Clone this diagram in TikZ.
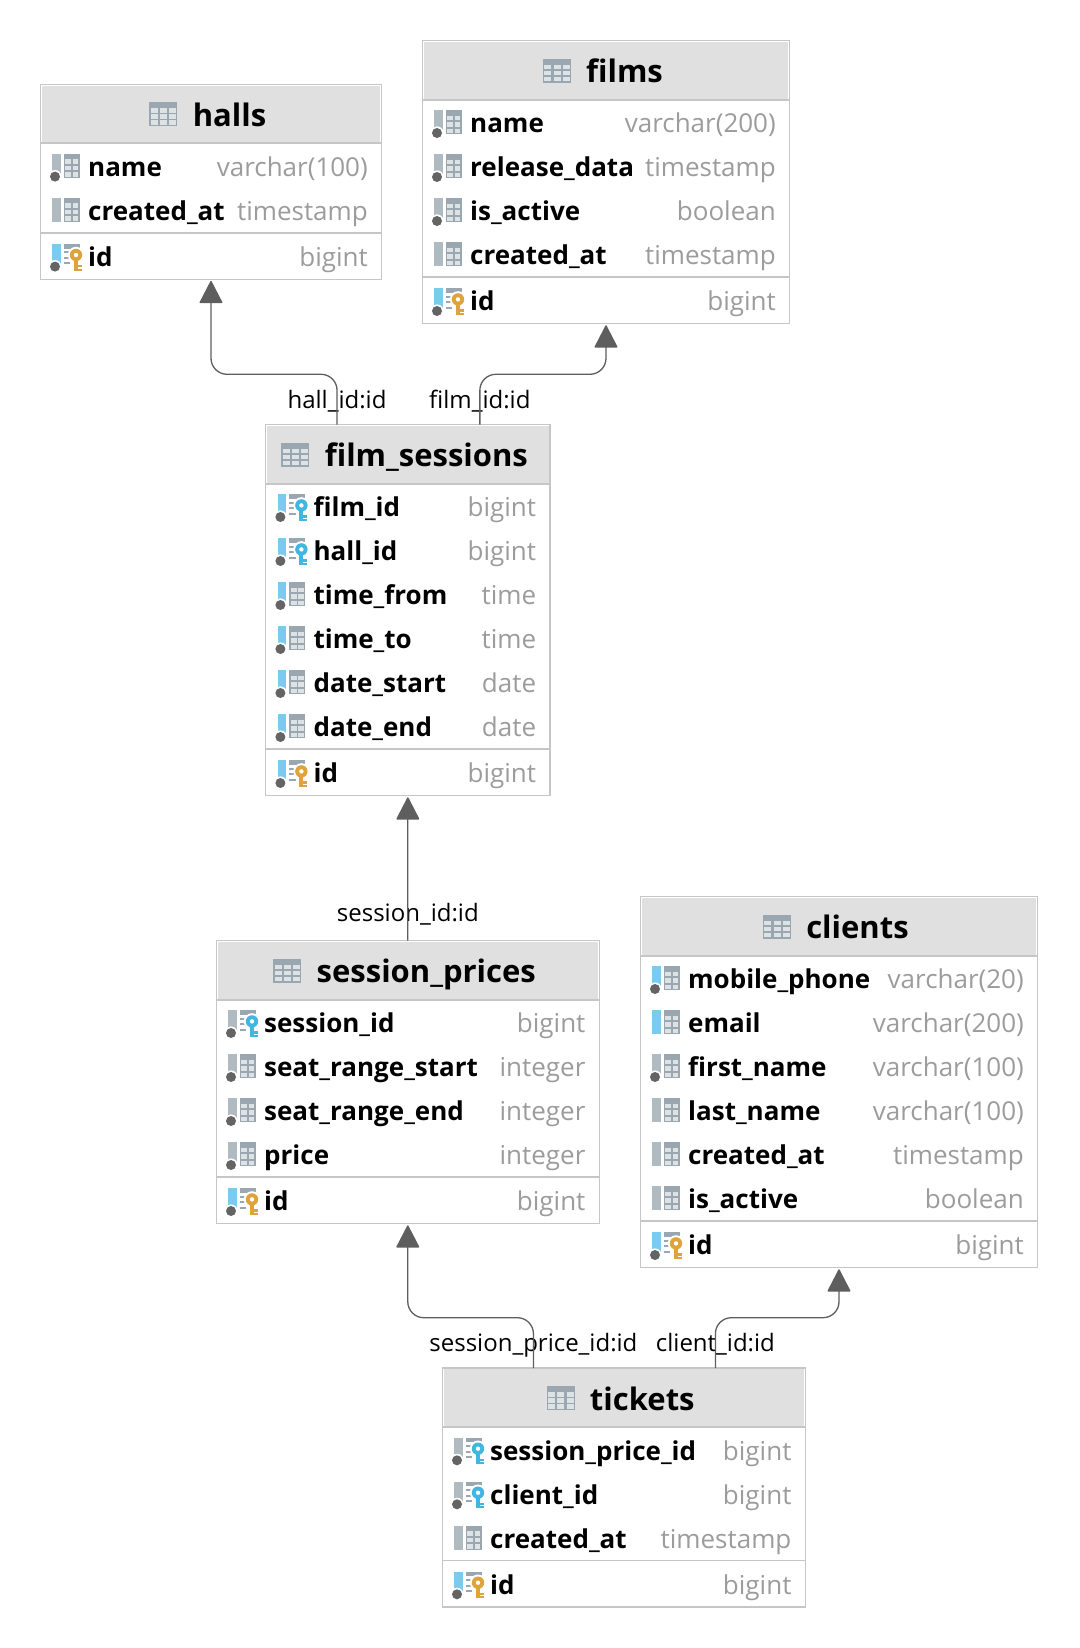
\documentclass[tikz,border=0pt]{standalone}
\usepackage{fontspec}
\setmainfont{Open Sans}
\usetikzlibrary{arrows.meta, positioning}

\definecolor{linegray}{HTML}{5E5E5E}
\definecolor{edgegray}{HTML}{C6C6C6}
\definecolor{headgray}{HTML}{E0E0E0}
\definecolor{typegray}{HTML}{9C9C9C}
\definecolor{icongray}{HTML}{9AA7B0}
\definecolor{cellgray}{HTML}{DDE2E5}
\definecolor{barg}{HTML}{AFBAC1}
\definecolor{barb}{HTML}{7ACBEC}
\definecolor{dotgray}{HTML}{646464}
\definecolor{keygold}{HTML}{DFA33A}
\definecolor{keyblue}{HTML}{40B6E0}

\tikzset{
    tablebox/.style = {draw=edgegray, line width=0.7pt, rectangle, fill=white, anchor=north west, inner sep=0pt, outer sep=0pt},
    headbox/.style = {fill=headgray, rectangle, anchor=north west, inner sep=0pt, outer sep=0pt},
    sepline/.style = {draw=edgegray, line width=0.9pt},
    title/.style = {anchor=base, inner sep=0pt, font=\bfseries\fontsize{15.5}{18}\selectfont},
    field/.style = {anchor=base west, inner sep=0pt, font=\bfseries\fontsize{13}{16}\selectfont},
    ftype/.style = {anchor=base east, inner sep=0pt, text=typegray, font=\fontsize{13}{16}\selectfont},
    fklabel/.style = {anchor=base, inner sep=0pt, font=\fontsize{12}{14}\selectfont},
    fklink/.style = {draw=linegray, line width=0.65pt, rounded corners=8pt, shorten >=0.8pt, -{Triangle[length=11.5pt, width=11.7pt, round=false]}},
}

% small icon of a table, left of the title
\newcommand{\tableicon}[1]{%
    \begin{scope}[shift={#1}]
        \fill[icongray] (-43,-24) rectangle (-15,0);
        \foreach \cx in {-41.5,-32.2,-23} \foreach \cy in {-18,-12,-6}
            \fill[cellgray] (\cx,\cy) rectangle ++(7,4.6);
    \end{scope}%
}

% icon of a column: position, bar colour, dot, key (0 none, 1 gold, 2 blue)
\newcommand{\colicon}[4]{%
    \begin{scope}[shift={#1}]
        \fill[#2] (0,-13.3) rectangle (8.7,10.7);
        \ifnum#4=0
            \fill[icongray] (11.4,-13.3) rectangle (27.4,10.7);
            \foreach \cy in {-8,-1.4,5} {
                \fill[cellgray] (13.0,\cy) rectangle ++(5.8,4.6);
                \fill[cellgray] (20.2,\cy) rectangle ++(5.8,4.6);
            }
        \else
            \fill[icongray] (11.4,-13.3) rectangle (27.4,-8.6);
            \fill[icongray] (11.4,-6) rectangle (18,-4);
            \fill[icongray] (11.4,-0.5) rectangle (18,1.5);
            \fill[icongray] (11.4,5) rectangle (18,7);
            \ifcase#4\or\def\keycol{keygold}\or\def\keycol{keyblue}\fi
            \fill[white] (23.7,-2.3) circle (4.1pt);
            \fill[white] (19.7,3) rectangle (31,15);
            \fill[\keycol] (23.7,-2.3) circle (3.1pt);
            \fill[white] (23.7,-2.3) circle (1.1pt);
            \fill[\keycol] (21.7,2) rectangle (25.7,13.4);
            \fill[\keycol] (25.7,7.5) rectangle (29.5,10);
            \fill[\keycol] (25.7,11.4) rectangle (29.5,13.4);
        \fi
        \ifnum#3=1
            \fill[white] (2.7,9.3) circle (3.3pt);
            \fill[dotgray] (2.7,9.3) circle (2.5pt);
        \fi
    \end{scope}%
}

% one table: name, left, top, width, number of rows, title, rows
\newcommand{\dbtable}[7]{%
    \pgfmathsetmacro{\tabh}{107+44*#5}
    \node [tablebox, minimum width=#4*0.5pt, minimum height=\tabh*0.5pt] (#1) at (#2,#3) {};
    \node [headbox, minimum width=#4*0.5pt-1.4pt, minimum height=28.6pt] (#1-head) at (#2+1.4,#3+1.4) {};
    \draw [sepline] (#2,#3+59) -- ++(#4,0);
    \pgfmathsetmacro{\septop}{#3+60.4+44*#5}
    \draw [sepline] (#2,\septop) -- ++(#4,0);
    \node [title] (#1-title) at (#2+#4/2+18.5,#3+42) {#6};
    \tableicon{(#1-title.base west)}
    \foreach \fname/\ftype/\fbar/\fdot/\fkey [count=\i] in {#7} {
        \pgfmathsetmacro{\rowy}{#3+39+44*\i}
        \colicon{(#2+12,\rowy)}{\fbar}{\fdot}{\fkey}
        \node [field] (#1-\i) at (#2+47.5,\rowy+9) {\fname};
        \node [ftype] (#1-\i-type) at (#2+#4-13.5,\rowy+9) {\ftype};
    }
    \pgfmathsetmacro{\idy}{#3+85+44*#5}
    \colicon{(#2+12,\idy)}{barb}{1}{1}
    \node [field] (#1-id) at (#2+47.5,\idy+9) {id};
    \node [ftype] (#1-id-type) at (#2+#4-13.5,\idy+9) {bigint};
}

\begin{document}
\begin{tikzpicture}[x=0.5pt, y=-0.5pt]
    \useasboundingbox (0,0) rectangle (1080,1648);

    % Tables
    \dbtable{halls}{40.3}{84.3}{341.4}{2}{halls}{
        name/varchar(100)/barg/1/0,
        created\_at/timestamp/barg/0/0}
    \dbtable{films}{422.3}{40.7}{367.4}{4}{films}{
        name/varchar(200)/barg/1/0,
        release\_data/timestamp/barg/1/0,
        is\_active/boolean/barg/1/0,
        created\_at/timestamp/barg/0/0}
    \dbtable{film_sessions}{265.7}{424.7}{284.3}{6}{film\_sessions}{
        film\_id/bigint/barb/1/2,
        hall\_id/bigint/barb/1/2,
        time\_from/time/barb/1/0,
        time\_to/time/barb/1/0,
        date\_start/date/barb/1/0,
        date\_end/date/barb/1/0}
    \dbtable{session_prices}{216.3}{940.7}{383}{4}{session\_prices}{
        session\_id/bigint/barg/1/2,
        seat\_range\_start/integer/barg/1/0,
        seat\_range\_end/integer/barg/1/0,
        price/integer/barg/1/0}
    \dbtable{clients}{640.3}{896.7}{397.4}{6}{clients}{
        mobile\_phone/varchar(20)/barb/1/0,
        email/varchar(200)/barb/0/0,
        first\_name/varchar(100)/barg/1/0,
        last\_name/varchar(100)/barg/0/0,
        created\_at/timestamp/barg/0/0,
        is\_active/boolean/barg/0/0}
    \dbtable{tickets}{442.3}{1368}{363}{3}{tickets}{
        session\_price\_id/bigint/barg/1/2,
        client\_id/bigint/barg/1/2,
        created\_at/timestamp/barg/0/0}

    % Free ends of the links
    \coordinate (hall_fk) at ([xshift=-35.4pt]film_sessions.north);
    \coordinate (film_fk) at ([xshift=36pt]film_sessions.north);
    \coordinate (price_fk) at ([xshift=-45.2pt]tickets.north);
    \coordinate (client_fk) at ([xshift=45.8pt]tickets.north);

    % Labels of the links
    \node [fklabel, above=8.2pt of hall_fk, anchor=base] (hall_label) {hall\_id:id};
    \node [fklabel, above=8.2pt of film_fk, anchor=base] (film_label) {film\_id:id};
    \node [fklabel, above=9.8pt of session_prices.north, anchor=base] (session_label) {session\_id:id};
    \node [fklabel, above=8.2pt of price_fk, anchor=base] (price_label) {session\_price\_id:id};
    \node [fklabel, above=8.2pt of client_fk, anchor=base] (client_label) {client\_id:id};

    % Connecting lines
    \draw [fklink] (hall_fk) -- ++(0,-50.4) -| (halls.south);
    \draw [fklink] (film_fk) -- ++(0,-50.4) -| (films.south);
    \draw [fklink] (session_prices.north) -- (film_sessions.south);
    \draw [fklink] (price_fk) -- ++(0,-50.3) -| (session_prices.south);
    \draw [fklink] (client_fk) -- ++(0,-50.3) -| (clients.south);

\end{tikzpicture}
\end{document}
